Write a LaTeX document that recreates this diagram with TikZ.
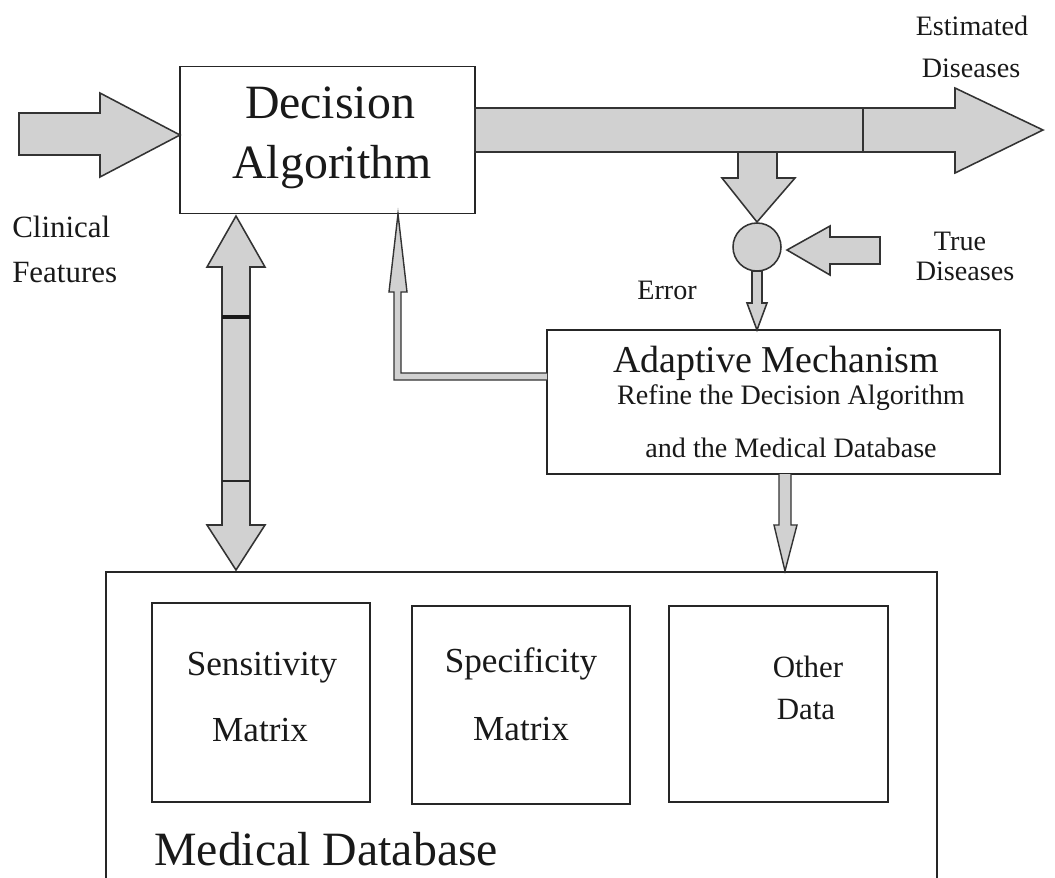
\documentclass[tikz,border=0pt]{standalone}
\usepackage{fontspec}
\setmainfont{Liberation Serif}
\def\pxu{0.025cm}
\tikzset{
  box/.style={draw=black!85, line width=1.3pt, fill=white, inner sep=0pt, outer sep=0pt},
  blk/.style={draw=black!80, line width=1.1pt, fill=black!18, line join=miter},
  lbl/.style={anchor=base, inner sep=0pt, text=black!90},
  huge/.style={font=\fontsize{34}{40}\selectfont},
  big/.style={font=\fontsize{27}{32}\selectfont},
  mid/.style={font=\fontsize{25}{30}\selectfont},
  sml/.style={font=\fontsize{22}{26}\selectfont},
  tiny/.style={font=\fontsize{20}{24}\selectfont},
}
\begin{document}
\begin{tikzpicture}[x=0.025cm, y=-0.025cm]
\useasboundingbox (0,0) rectangle (1055,877);
\clip (0,0) rectangle (1055,877);
\fill[white] (0,0) rectangle (1055,877);

% boxes
\node[box, minimum width={295*\pxu}, minimum height={147*\pxu}] (dec) at (327.5,140) {};
\node[box, minimum width={453*\pxu}, minimum height={144*\pxu}] (adp) at (773.5,402) {};
\node[box, minimum width={831*\pxu}, minimum height={328*\pxu}] (mdb) at (521.5,736) {};
\node[box, minimum width={218*\pxu}, minimum height={199*\pxu}] (sen) at (261,702.5) {};
\node[box, minimum width={218*\pxu}, minimum height={198*\pxu}] (spe) at (521,705) {};
\node[box, minimum width={219*\pxu}, minimum height={196*\pxu}] (oth) at (778.5,704) {};

% input arrow (Clinical Features)
\draw[blk] (19,113) -- (100,113) -- (100,93) -- (180,135) -- (100,177) -- (100,155) -- (19,155) -- cycle;
% output arrow (Estimated Diseases)
\draw[blk] (475,108) -- (955,108) -- (955,88) -- (1043,130) -- (955,173) -- (955,152) -- (475,152) -- cycle;
\draw[black!80, line width=1.1pt] (863,108) -- (863,152);
% down arrow to comparator
\draw[blk] (738,152) -- (738,178) -- (722,178) -- (757,222) -- (795,178) -- (777,178) -- (777,152) -- cycle;
% comparator
\node[blk, circle, minimum size={48*\pxu}, inner sep=0pt] (cmp) at (757,247) {};
% true diseases arrow
\draw[blk] (880,237) -- (830,237) -- (830,226) -- (787,250) -- (830,275) -- (830,264) -- (880,264) -- cycle;
% error arrow
\draw[blk] (752,271) -- (752,303) -- (747,303) -- (757,330) -- (767,303) -- (762,303) -- (762,271) -- cycle;
% feedback arrow to decision algorithm
\draw[blk, line width=1pt] (547,373) -- (401,373) -- (401,292) -- (407,292) -- (398,214) -- (389,292) -- (394,292) -- (394,380) -- (547,380);
% adaptive to database
\draw[blk, line width=1pt] (779,474) -- (779,525) -- (774,525) -- (785,571) -- (797,525) -- (791,525) -- (791,474);
% double arrow decision <-> database
\draw[blk] (222,267) -- (207,267) -- (236,216) -- (265,267) -- (250,267) -- (250,525) -- (265,525) -- (236,570) -- (207,525) -- (222,525) -- cycle;
\draw[black!90, line width=2.4pt] (222,317) -- (250,317);
\draw[black!85, line width=1.1pt] (222,481) -- (250,481);

% texts
\node[lbl, huge] (t1) at (330,118) {Decision};
\node[lbl, huge] (t2) at (332,178) {Algorithm};
\node[lbl, sml, anchor=base west] (t3) at (12,237) {Clinical};
\node[lbl, sml, anchor=base west] (t4) at (12,282) {Features};
\node[lbl, tiny] (t5) at (972,35) {Estimated};
\node[lbl, tiny] (t6) at (971,77) {Diseases};
\node[lbl, tiny] (t7) at (960,250) {True};
\node[lbl, tiny] (t8) at (965,280) {Diseases};
\node[lbl, tiny] (t9) at (667,299) {Error};
\node[lbl, big] (t10) at (776,372) {Adaptive Mechanism};
\node[lbl, tiny] (t11) at (791,404) {Refine the Decision Algorithm};
\node[lbl, tiny] (t12) at (791,457) {and the Medical Database};
\node[lbl, mid] (t13) at (262,675) {Sensitivity};
\node[lbl, mid] (t14) at (260,741) {Matrix};
\node[lbl, mid] (t15) at (521,672) {Specificity};
\node[lbl, mid] (t16) at (521,740) {Matrix};
\node[lbl, sml] (t17) at (808,677) {Other};
\node[lbl, sml] (t18) at (806,719) {Data};
\node[lbl, huge, anchor=base west] (t19) at (154,865) {Medical Database};
\end{tikzpicture}
\end{document}
